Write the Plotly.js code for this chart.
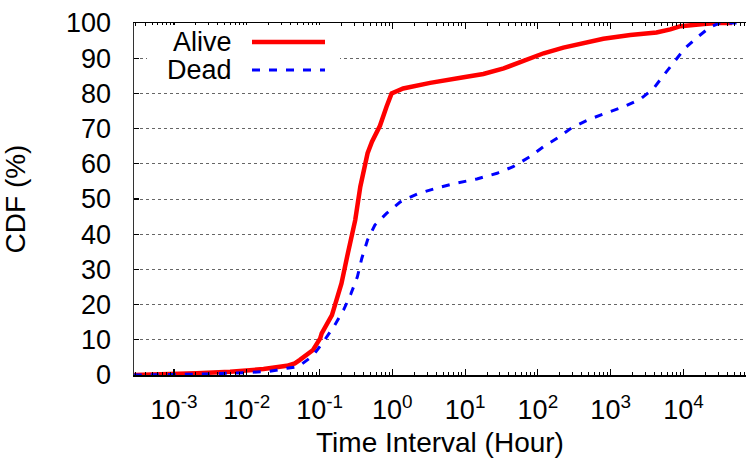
<!DOCTYPE html>
<html>
<head>
<meta charset="utf-8">
<script src="https://cdn.plot.ly/plotly-3.0.1.min.js"></script>
<style>html,body{margin:0;padding:0;background:#fff;}#chart{width:746px;height:458px;}</style>
</head>
<body>
<div id="chart"></div>
<script>
// Time interval (hours) and CDF (%)
const aliveX = [2.8e-4, 1e-3, 2.04e-3, 5.9e-3, 0.017, 0.0355, 0.0457, 0.0537, 0.0813, 0.102, 0.107, 0.148, 0.191, 0.2, 0.245, 0.309, 0.363, 0.457, 0.525, 0.676, 0.832, 0.977, 1.41, 2.4, 3.31, 9.55, 17.8, 33.9, 63.1, 120, 224, 427, 794, 1862, 4266, 6607, 9120, 19055, 28840, 46770];
const aliveY = [0, 0.2, 0.5, 0.9, 1.7, 2.6, 3.3, 4.3, 7.1, 10.4, 11.8, 17, 24, 26, 34.6, 44, 53.5, 63, 66.3, 70.8, 76.2, 80, 81.4, 82.4, 83, 84.6, 85.5, 87.1, 89.3, 91.4, 93, 94.4, 95.5, 96.6, 97.3, 98.2, 99.1, 99.7, 100, 100];
const deadX = [2.8e-4, 1e-3, 3.16e-3, 0.01, 0.02, 0.0355, 0.0513, 0.0813, 0.117, 0.162, 0.214, 0.269, 0.331, 0.38, 0.457, 0.575, 0.832, 1.29, 2.19, 3.89, 7.24, 14.5, 27.5, 45.7, 77.6, 120, 191, 295, 501, 891, 1514, 2570, 3890, 5370, 7413, 10470, 15850, 23440, 31620, 53700];
const deadY = [0, 0.1, 0.3, 0.7, 1.0, 1.9, 2.4, 5.5, 9.9, 14.2, 18.5, 23, 27.9, 33.1, 38.4, 42.6, 45.9, 49.2, 51.4, 53, 54.4, 55.7, 57.3, 59.2, 62, 64.9, 67.5, 70.3, 72.6, 74.5, 76.2, 78.4, 81.4, 85.2, 89, 92.8, 96.1, 98.9, 100, 100];
const seriesNames = ['Alive', 'Dead'];
const xTickVals = [1e-3, 1e-2, 1e-1, 1, 10, 100, 1000, 10000];
const xTickText = ['10<sup>-3</sup>', '10<sup>-2</sup>', '10<sup>-1</sup>', '10<sup>0</sup>', '10<sup>1</sup>', '10<sup>2</sup>', '10<sup>3</sup>', '10<sup>4</sup>'];
const yTickVals = [0, 10, 20, 30, 40, 50, 60, 70, 80, 90, 100];

const minorVals = [];
for (let e = -4; e <= 4; e++) {
  for (let m = 2; m <= 9; m++) minorVals.push(m * Math.pow(10, e));
}

const FONT = 'Liberation Sans, Arial, sans-serif';
const RED = '#ff0000', BLUE = '#0000ff';

const traces = [
  {x: aliveX, y: aliveY, name: seriesNames[0], type: 'scatter', mode: 'lines',
   line: {color: RED, width: 4.5}, showlegend: false, hoverinfo: 'skip'},
  {x: deadX, y: deadY, name: seriesNames[1], type: 'scatter', mode: 'lines',
   line: {color: BLUE, width: 3, dash: '8px,9px'}, showlegend: false, hoverinfo: 'skip'}
];

// legend built in paper coordinates (plot area 612 x 352 px)
const px = v => (v - 134) / 612;
const py = v => (375 - v) / 352;

const layout = {
  width: 746, height: 458,
  margin: {l: 134, r: 0, t: 23, b: 83},
  paper_bgcolor: '#fff', plot_bgcolor: '#fff',
  font: {family: FONT, size: 27, color: '#000'},
  xaxis: {
    type: 'log', range: [-3.55, 4.86],
    tickmode: 'array', tickvals: xTickVals, ticktext: xTickText,
    ticks: 'inside', ticklen: 6, tickwidth: 1.2, tickcolor: '#000',
    minor: {tickmode: 'array', tickvals: minorVals, ticks: 'inside', ticklen: 3, tickwidth: 1, tickcolor: '#000', showgrid: false},
    showline: true, linecolor: '#000', linewidth: 1.5, mirror: 'ticks',
    showgrid: false, zeroline: false,
    tickfont: {family: FONT, size: 27, color: '#000'},
    ticklabelstandoff: 10,
    title: {text: 'Time Interval (Hour)', font: {family: FONT, size: 28, color: '#000'}, standoff: 19}
  },
  yaxis: {
    range: [0, 100], tickmode: 'array', tickvals: yTickVals,
    ticks: 'inside', ticklen: 5, tickwidth: 1.2, tickcolor: '#000',
    showline: true, linecolor: '#333', linewidth: 1.5, mirror: false,
    showgrid: true, gridcolor: '#666', griddash: 'dot', gridwidth: 1,
    zeroline: false,
    tickfont: {family: FONT, size: 27, color: '#000'},
    ticklabelstandoff: 16,
    title: {text: 'CDF (%)', font: {family: FONT, size: 28, color: '#000'}, standoff: 35}
  },
  shapes: [
    {type: 'rect', xref: 'paper', yref: 'paper', x0: px(147), x1: px(340), y0: py(88), y1: py(25),
     fillcolor: '#fff', line: {width: 0}, layer: 'above'},
    {type: 'line', xref: 'paper', yref: 'paper', x0: px(252), x1: px(325), y0: py(42), y1: py(42),
     line: {color: RED, width: 4.5}, layer: 'above'},
    {type: 'line', xref: 'paper', yref: 'paper', x0: px(252), x1: px(325), y0: py(70), y1: py(70),
     line: {color: BLUE, width: 3, dash: '8px,9px'}, layer: 'above'}
  ],
  annotations: [
    {xref: 'paper', yref: 'paper', x: px(234), y: py(42), xanchor: 'right', yanchor: 'middle',
     text: seriesNames[0], showarrow: false, font: {family: FONT, size: 27, color: '#000'}},
    {xref: 'paper', yref: 'paper', x: px(234), y: py(70), xanchor: 'right', yanchor: 'middle',
     text: seriesNames[1], showarrow: false, font: {family: FONT, size: 27, color: '#000'}}
  ]
};

Plotly.newPlot('chart', traces, layout, {staticPlot: true, displayModeBar: false});
</script>
</body>
</html>
